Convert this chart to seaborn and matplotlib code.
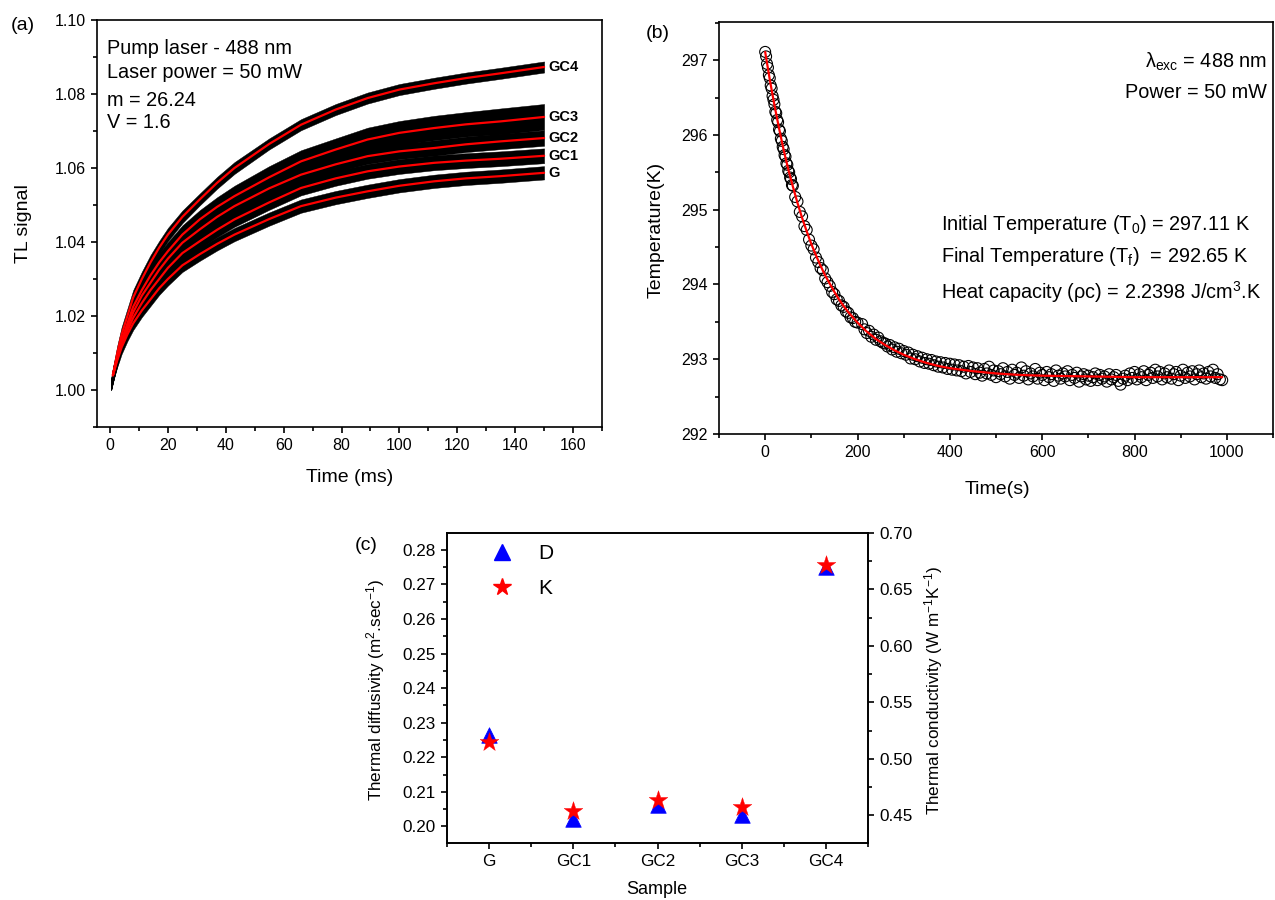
import numpy as np
import matplotlib
matplotlib.use("Agg")
import matplotlib.pyplot as plt
import seaborn as sns
from matplotlib.ticker import MultipleLocator, FormatStrFormatter, FixedLocator

sns.set_theme(style="ticks")
plt.rcParams["font.family"] = ["Liberation Sans", "DejaVu Sans"]
plt.rcParams["mathtext.fontset"] = "custom"
plt.rcParams["mathtext.rm"] = "Liberation Sans"
plt.rcParams["mathtext.it"] = "Liberation Sans"
plt.rcParams["mathtext.bf"] = "Liberation Sans:bold"
plt.rcParams["text.color"] = "black"
plt.rcParams["axes.labelcolor"] = "black"
plt.rcParams["axes.edgecolor"] = "black"
plt.rcParams["axes.linewidth"] = 1.2
for ax_ in ("xtick", "ytick"):
    plt.rcParams[f"{ax_}.major.width"] = 1.2
    plt.rcParams[f"{ax_}.minor.width"] = 1.2
    plt.rcParams[f"{ax_}.major.size"] = 4.5
    plt.rcParams[f"{ax_}.minor.size"] = 2.6
    plt.rcParams[f"{ax_}.direction"] = "out"
    plt.rcParams[f"{ax_}.color"] = "black"
    plt.rcParams[f"{ax_}.labelcolor"] = "black"

# ---------------- Panel (a) data: TL signal vs time (ms) ----------------
t_a = [0.4, 1, 2.5, 4, 6, 8, 11, 14, 17, 20, 25, 31, 37, 43, 55, 66, 78, 89, 100, 112,
       123, 135, 150]
tl_samples = ["GC4", "GC3", "GC2", "GC1", "G"]
fit_GC4 = [1.0015, 1.004, 1.010, 1.015, 1.020, 1.025, 1.030, 1.0345, 1.0385, 1.042,
           1.0468, 1.0515, 1.056, 1.0600, 1.0665, 1.0717, 1.0758, 1.0789, 1.0812, 1.0829,
           1.0843, 1.0856, 1.0873]
fit_GC3 = [1.0015, 1.004, 1.009, 1.0135, 1.018, 1.0225, 1.027, 1.031, 1.0345, 1.0375,
           1.042, 1.0461, 1.0495, 1.0524, 1.0575, 1.0618, 1.0650, 1.0677, 1.0695, 1.0708,
           1.0718, 1.0726, 1.0738]
fit_GC2 = [1.0015, 1.004, 1.0088, 1.013, 1.017, 1.021, 1.0255, 1.029, 1.0325, 1.0355,
           1.0398, 1.0434, 1.0468, 1.0497, 1.0545, 1.0582, 1.0610, 1.0632, 1.0645, 1.0654,
           1.0664, 1.0672, 1.0681]
fit_GC1 = [1.0015, 1.004, 1.0085, 1.0125, 1.016, 1.0195, 1.0235, 1.027, 1.030, 1.033,
           1.037, 1.0402, 1.0433, 1.0461, 1.0507, 1.0546, 1.0572, 1.0591, 1.0604, 1.0614,
           1.0620, 1.0625, 1.0633]
fit_G = [1.0015, 1.004, 1.008, 1.0115, 1.015, 1.018, 1.0215, 1.0245, 1.0275, 1.030,
         1.0337, 1.0367, 1.0395, 1.0420, 1.0462, 1.0497, 1.0520, 1.0537, 1.0552, 1.0564,
         1.0572, 1.0578, 1.0587]
# half-width of the noisy measured signal around each fit
noise_GC4 = [0.0015, 0.0020, 0.0020, 0.0020, 0.0020, 0.0020, 0.0020, 0.0020, 0.0018, 0.0018,
             0.0017, 0.0016, 0.0016, 0.0016, 0.0015, 0.0015, 0.0015, 0.0015, 0.0015, 0.0015,
             0.0015, 0.0015, 0.0015]
noise_GC3 = [0.0015, 0.0020, 0.0020, 0.0022, 0.0022, 0.0022, 0.0024, 0.0024, 0.0025, 0.0025,
             0.0025, 0.0025, 0.0026, 0.0028, 0.0030, 0.0030, 0.0030, 0.0032, 0.0032, 0.0033,
             0.0033, 0.0035, 0.0035]
noise_GC2 = [0.0015, 0.0020, 0.0020, 0.0021, 0.0021, 0.0021, 0.0021, 0.0021, 0.0021, 0.0021,
             0.0021, 0.0021, 0.0021, 0.0021, 0.0021, 0.0021, 0.0021, 0.0021, 0.0021, 0.0021,
             0.0021, 0.0021, 0.0021]
noise_GC1 = [0.0015, 0.0020, 0.0020, 0.0020, 0.0020, 0.0020, 0.0020, 0.0020, 0.0020, 0.0020,
             0.0020, 0.0020, 0.0020, 0.0020, 0.0020, 0.0020, 0.0020, 0.0020, 0.0020, 0.0020,
             0.0020, 0.0020, 0.0020]
noise_G = [0.0015, 0.0018, 0.0018, 0.0018, 0.0018, 0.0018, 0.0018, 0.0018, 0.0018, 0.0018,
           0.0018, 0.0018, 0.0018, 0.0018, 0.0018, 0.0018, 0.0018, 0.0018, 0.0018, 0.0018,
           0.0018, 0.0018, 0.0018]
fits = {"GC4": fit_GC4, "GC3": fit_GC3, "GC2": fit_GC2, "GC1": fit_GC1, "G": fit_G}
noises = {"GC4": noise_GC4, "GC3": noise_GC3, "GC2": noise_GC2, "GC1": noise_GC1, "G": noise_G}

# ---------------- Panel (b) data: temperature decay ----------------
t_b = list(range(0, 61, 2)) + list(range(65, 201, 5)) + list(range(210, 991, 5))
T_meas = [
    297.11, 297.05, 296.95, 296.90, 296.80, 296.76, 296.66, 296.62, 296.52, 296.47,
    296.41, 296.31, 296.29, 296.20, 296.17, 296.07, 296.05, 295.95, 295.92, 295.84,
    295.81, 295.73, 295.71, 295.62, 295.60, 295.52, 295.50, 295.43, 295.41, 295.33,
    295.32,
    295.17, 295.11, 294.97, 294.91, 294.78, 294.73, 294.60, 294.52, 294.47, 294.36,
    294.30, 294.22, 294.19, 294.08, 294.03, 293.98, 293.90, 293.87, 293.80, 293.78,
    293.72, 293.70, 293.64, 293.62, 293.56, 293.55, 293.50, 293.49,
    293.47, 293.40, 293.35, 293.38, 293.30, 293.33, 293.26, 293.29, 293.24, 293.22,
    293.21, 293.17, 293.19, 293.13, 293.16, 293.10, 293.14, 293.08, 293.11, 293.06,
    293.09, 293.01, 293.06, 293.00, 293.04, 292.97, 293.02, 292.95, 293.00, 292.94,
    292.99, 292.92, 292.97, 292.90, 292.96, 292.89, 292.95, 292.87, 292.94, 292.86,
    292.93, 292.85, 292.92, 292.84, 292.90, 292.81, 292.91, 292.83, 292.89, 292.80,
    292.88, 292.82, 292.78, 292.87, 292.81, 292.90, 292.79, 292.85, 292.76, 292.84,
    292.80, 292.88, 292.77, 292.83, 292.74, 292.86, 292.79, 292.82, 292.75, 292.89,
    292.78, 292.84, 292.73, 292.81, 292.77, 292.87, 292.74, 292.82, 292.79, 292.72,
    292.83, 292.76, 292.80, 292.71, 292.85, 292.78, 292.74, 292.81, 292.77, 292.84,
    292.72, 292.79, 292.75, 292.82, 292.70, 292.77, 292.80, 292.73, 292.78, 292.71,
    292.76, 292.81, 292.72, 292.79, 292.74, 292.77, 292.70, 292.80, 292.73, 292.76,
    292.79, 292.71, 292.66, 292.74, 292.78, 292.72, 292.81, 292.75, 292.83, 292.73,
    292.80, 292.76, 292.84, 292.72, 292.79, 292.82, 292.75, 292.86, 292.77, 292.83,
    292.73, 292.81, 292.76, 292.85, 292.74, 292.80, 292.83, 292.72, 292.78, 292.86,
    292.75, 292.82, 292.77, 292.84, 292.73, 292.80, 292.85, 292.76, 292.81, 292.74,
    292.83, 292.77, 292.86, 292.75, 292.80, 292.73, 292.72,
]
t_fit = [0, 10, 20, 30, 40, 50, 60, 70, 80, 90, 100, 110, 120, 130, 140, 150, 160, 170,
         180, 190, 200, 220, 240, 260, 280, 300, 325, 350, 375, 400, 450, 500, 550, 600,
         700, 800, 900, 990]
T_fit = [297.11, 296.74, 296.40, 296.09, 295.80, 295.54, 295.31, 295.09, 294.89, 294.71,
         294.54, 294.39, 294.25, 294.12, 294.01, 293.90, 293.80, 293.71, 293.63, 293.56,
         293.49, 293.37, 293.27, 293.19, 293.12, 293.06, 293.00, 292.95, 292.91, 292.88,
         292.84, 292.81, 292.79, 292.78, 292.77, 292.76, 292.76, 292.76]

# ---------------- Panel (c) data ----------------
samples = ["G", "GC1", "GC2", "GC3", "GC4"]
diffusivity_D = [0.2264, 0.2022, 0.2061, 0.2032, 0.2752]
conductivity_K = [0.5147, 0.4536, 0.4637, 0.4578, 0.6720]

W, H = 1275, 900
fig = plt.figure(figsize=(W / 100, H / 100), dpi=100)


def px(x, y):
    return x / W, 1 - y / H


def axes_px(x0, y0, x1, y1):
    return [x0 / W, 1 - y1 / H, (x1 - x0) / W, (y1 - y0) / H]


TICK_AB = 11.5
ANN = 14.3
LAB = 14

# ================= Panel (a) =================
axa = fig.add_axes(axes_px(97, 20, 602, 427))
for name in tl_samples:
    f = np.array(fits[name])
    n = np.array(noises[name])
    axa.fill_between(t_a, f - n, f + n, color="black", lw=0.3, edgecolor="black", zorder=2)
for name in tl_samples:
    sns.lineplot(x=t_a[1:], y=fits[name][1:], ax=axa, color="red", lw=1.6, zorder=3)
    axa.text(t_a[-1] + 1.5, fits[name][-1], name, fontsize=10.5, fontweight="bold",
             va="center", ha="left")
axa.set_xlim(-4.5, 170)
axa.set_ylim(0.99, 1.10)
axa.xaxis.set_major_locator(FixedLocator([0, 20, 40, 60, 80, 100, 120, 140, 160]))
axa.xaxis.set_minor_locator(FixedLocator([10, 30, 50, 70, 90, 110, 130, 150, 170]))
axa.yaxis.set_major_locator(MultipleLocator(0.02))
axa.yaxis.set_minor_locator(MultipleLocator(0.01))
axa.yaxis.set_major_formatter(FormatStrFormatter("%.2f"))
axa.tick_params(which="both", top=False, right=False, labelsize=TICK_AB)
axa.set_xlabel("")
axa.set_ylabel("")
for t_, y_ in [("Pump laser - 488 nm", 48), ("Laser power = 50 mW", 72),
               ("m = 26.24", 100), ("V = 1.6", 123)]:
    fig.text(*px(107, y_), t_, fontsize=ANN, va="center", ha="left")
fig.text(*px(24, 224), "TL signal", fontsize=LAB, rotation=90, va="center", ha="center")
fig.text(*px(350, 478), "Time (ms)", fontsize=LAB, va="center", ha="center")
fig.text(*px(11, 25), "(a)", fontsize=LAB, va="center", ha="left")

# ================= Panel (b) =================
axb = fig.add_axes(axes_px(719, 22, 1273, 434))
sns.scatterplot(x=t_b, y=T_meas, ax=axb, marker="o", s=62, facecolors="none",
                edgecolor="black", linewidth=0.8, zorder=2)
sns.lineplot(x=t_fit, y=T_fit, ax=axb, color="red", lw=1.6, zorder=3)
axb.set_xlim(-100, 1100)
axb.set_ylim(292, 297.51)
axb.xaxis.set_major_locator(FixedLocator([0, 200, 400, 600, 800, 1000]))
axb.xaxis.set_minor_locator(FixedLocator([-100, 100, 300, 500, 700, 900, 1100]))
axb.yaxis.set_major_locator(MultipleLocator(1))
axb.yaxis.set_minor_locator(MultipleLocator(0.5))
axb.yaxis.set_major_formatter(FormatStrFormatter("%d"))
axb.tick_params(which="both", top=False, right=False, labelsize=TICK_AB)
axb.set_xlabel("")
axb.set_ylabel("")
fig.text(*px(1267, 62), r"λ$_{\mathregular{exc}}$ = 488 nm", fontsize=ANN,
         va="center", ha="right")
fig.text(*px(1267, 92), "Power = 50 mW", fontsize=ANN, va="center", ha="right")
fig.text(*px(941, 224), r"Initial Temperature (T$_{\mathregular{0}}$) = 297.11 K", fontsize=ANN,
         va="center", ha="left")
fig.text(*px(941, 256), r"Final Temperature (T$_{\mathregular{f}}$)  = 292.65 K", fontsize=ANN,
         va="center", ha="left")
fig.text(*px(941, 292), r"Heat capacity (ρc) = 2.2398 J/cm$^{\mathregular{3}}$.K", fontsize=ANN,
         va="center", ha="left")
fig.text(*px(656, 230), "Temperature(K)", fontsize=LAB, rotation=90, va="center", ha="center")
fig.text(*px(997, 489), "Time(s)", fontsize=LAB, va="center", ha="center")
fig.text(*px(646, 33), "(b)", fontsize=LAB, va="center", ha="left")

# ================= Panel (c) =================
axc = fig.add_axes(axes_px(447, 533, 868, 843))
xpos = list(range(len(samples)))
sns.scatterplot(x=xpos, y=diffusivity_D, ax=axc, marker="^", s=125, color="#0000ff",
                edgecolor="#0000ff", linewidth=0.5, zorder=3, legend=False)
axc.set_xlim(-0.5, 4.5)
axc.set_ylim(0.1952, 0.2849)
axc.xaxis.set_major_locator(FixedLocator(xpos))
axc.set_xticklabels(samples)
axc.xaxis.set_minor_locator(FixedLocator([-0.5, 0.5, 1.5, 2.5, 3.5, 4.5]))
axc.yaxis.set_major_locator(MultipleLocator(0.01))
axc.yaxis.set_minor_locator(MultipleLocator(0.005))
axc.yaxis.set_major_formatter(FormatStrFormatter("%.2f"))
axc.tick_params(which="both", top=False, right=False, labelsize=12.3)
axc.set_xlabel("")
axc.set_ylabel("")

axc2 = axc.twinx()
sns.scatterplot(x=xpos, y=conductivity_K, ax=axc2, marker="*", s=200, color="#ff0000",
                edgecolor="#ff0000", linewidth=0.3, zorder=4, legend=False)
axc2.set_ylim(0.4255, 0.70)
axc2.yaxis.set_major_locator(MultipleLocator(0.05))
axc2.yaxis.set_minor_locator(MultipleLocator(0.025))
axc2.yaxis.set_major_formatter(FormatStrFormatter("%.2f"))
axc2.tick_params(which="both", labelsize=12.3)
axc2.set_ylabel("")
axc2.set_xlim(-0.5, 4.5)

h1 = plt.Line2D([], [], ls="none", marker="^", markersize=11, color="#0000ff")
h2 = plt.Line2D([], [], ls="none", marker="*", markersize=13, color="#ff0000")
axc.legend([h1, h2], ["D", "K"], loc="upper left", bbox_to_anchor=(0.055, 1.0),
           frameon=False, fontsize=15, handletextpad=0.7, labelspacing=0.75,
           borderaxespad=0.15)

fig.text(*px(376, 690), r"Thermal diffusivity (m$^{\mathregular{2}}$.sec$^{\mathregular{-1}}$)",
         fontsize=12.3, rotation=90, va="center", ha="center")
fig.text(*px(934, 690), r"Thermal conductivity (W m$^{\mathregular{-1}}$K$^{\mathregular{-1}}$)",
         fontsize=12.3, rotation=90, va="center", ha="center")
fig.text(*px(657, 889), "Sample", fontsize=13, va="center", ha="center")
fig.text(*px(355, 546), "(c)", fontsize=LAB, va="center", ha="left")

fig.savefig("out.png", dpi=100)
